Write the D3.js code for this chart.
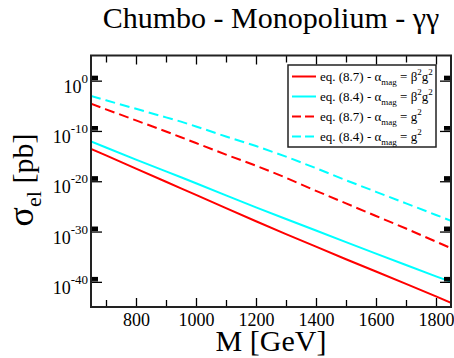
<!DOCTYPE html>
<html>
<head>
<script src="https://cdnjs.cloudflare.com/ajax/libs/d3/7.8.5/d3.min.js"></script>
<style>
  body { margin: 0; background: #fff; }
  text { font-family: 'Liberation Serif', 'Times New Roman', serif; fill: #000; }
</style>
</head>
<body>
<script>
// masses in GeV
const massGeV = [650, 700, 800, 900, 950, 1000, 1100, 1200, 1300, 1400, 1500, 1600, 1700, 1800, 1850];
// log10 of sigma_el [pb]
const eq87BetaLog = [-13.55, -14.85, -17.5, -20.1, -21.4, -22.7, -25.35, -27.95, -30.5, -33.0, -35.5, -37.95, -40.4, -42.9, -44.15];
const eq84BetaLog = [-12.1, -13.3, -15.7, -18.05, -19.2, -20.4, -22.8, -25.2, -27.5, -29.8, -32.1, -34.4, -36.65, -38.9, -40.0];
const eq87GLog = [-4.6, -5.7, -7.9, -10.1, -11.25, -12.4, -14.7, -16.9, -19.3, -21.9, -24.4, -26.9, -29.4, -32.0, -33.3];
const eq84GLog = [-3.05, -3.9, -5.6, -7.3, -8.15, -9.1, -11.1, -13.0, -15.1, -17.4, -19.8, -22.1, -24.4, -26.7, -27.85];

const xMajor = [800, 1000, 1200, 1400, 1600, 1800];
const xMinor = [700, 900, 1100, 1300, 1500, 1700];
const yMajorExp = [0, -10, -20, -30, -40];

const series = [
  { eq: "8.7", coupling: "beta", vals: eq87BetaLog, color: "#ff0000", dash: null },
  { eq: "8.4", coupling: "beta", vals: eq84BetaLog, color: "#00ffff", dash: null },
  { eq: "8.7", coupling: "g", vals: eq87GLog, color: "#ff0000", dash: "10,5" },
  { eq: "8.4", coupling: "g", vals: eq84GLog, color: "#00ffff", dash: "10,5" }
];

const W = 454, H = 358;
const pL = 91, pR = 451, pT = 55.5, pB = 307;
const serif = "'Liberation Serif', 'Times New Roman', serif";

const svg = d3.select("body").append("svg").attr("width", W).attr("height", H);

const x = d3.scaleLinear().domain([650, 1850]).range([pL, pR]);
const y = d3.scaleLog().domain([1e-45, 1e5]).range([pB, pT]);

// clip
svg.append("clipPath").attr("id", "clip")
  .append("rect").attr("x", pL).attr("y", pT).attr("width", pR - pL).attr("height", pB - pT);

// curves
const line = d3.line()
  .x(d => x(d[0]))
  .y(d => y(Math.pow(10, d[1])));

const plot = svg.append("g").attr("clip-path", "url(#clip)");
series.forEach(s => {
  plot.append("path")
    .datum(massGeV.map((m, i) => [m, s.vals[i]]))
    .attr("d", line)
    .attr("fill", "none")
    .attr("stroke", s.color)
    .attr("stroke-width", 2)
    .attr("stroke-dasharray", s.dash);
});

function clean(g) {
  g.attr("font-family", serif);
  g.select(".domain").remove();
  g.selectAll(".tick line").attr("stroke", "#000").attr("stroke-width", 1.3);
}

// x axes
svg.append("g").attr("transform", `translate(0,${pB})`)
  .call(d3.axisBottom(x).tickValues(xMajor).tickSize(-9).tickPadding(6).tickFormat(d3.format("d")))
  .call(clean)
  .selectAll("text").style("font-size", "18px").style("font-family", serif);
svg.append("g").attr("transform", `translate(0,${pB})`)
  .call(d3.axisBottom(x).tickValues(xMinor).tickSize(-7).tickFormat(""))
  .call(clean);
svg.append("g").attr("transform", `translate(0,${pT})`)
  .call(d3.axisTop(x).tickValues(xMajor).tickSize(-9).tickFormat(""))
  .call(clean);
svg.append("g").attr("transform", `translate(0,${pT})`)
  .call(d3.axisTop(x).tickValues(xMinor).tickSize(-7).tickFormat(""))
  .call(clean);

// y axes
const yMajor = yMajorExp.map(e => Math.pow(10, e));
const yMinor = [];
yMajorExp.forEach(e => { for (let k = 2; k <= 9; k++) yMinor.push(k * Math.pow(10, e)); });

[[d3.axisLeft, pL], [d3.axisRight, pR]].forEach(([ax, pos]) => {
  svg.append("g").attr("transform", `translate(${pos},0)`)
    .call(ax(y).tickValues(yMajor).tickSize(-11).tickFormat(""))
    .call(clean);
  svg.append("g").attr("transform", `translate(${pos},0)`)
    .call(ax(y).tickValues(yMinor).tickSize(-7).tickFormat(""))
    .call(clean);
});

// y tick labels 10^n
yMajorExp.forEach(e => {
  const t = svg.append("text")
    .attr("x", 88)
    .attr("y", y(Math.pow(10, e)) + 12)
    .attr("text-anchor", "end")
    .style("font-size", "18px");
  t.append("tspan").text("10");
  t.append("tspan").attr("dy", -10).style("font-size", "13px").text(e === 0 ? "0" : "-" + Math.abs(e));
});

// frame
svg.append("rect")
  .attr("x", pL).attr("y", pT).attr("width", pR - pL).attr("height", pB - pT)
  .attr("fill", "none").attr("stroke", "#222").attr("stroke-width", 2);

// title
svg.append("text")
  .attr("x", (pL + pR) / 2).attr("y", 28)
  .attr("text-anchor", "middle")
  .style("font-size", "30px")
  .text("Chumbo - Monopolium - γγ");

// x label
svg.append("text")
  .attr("x", (pL + pR) / 2).attr("y", 351)
  .attr("text-anchor", "middle")
  .style("font-size", "30px")
  .text("M [GeV]");

// y label
const yl = svg.append("text")
  .attr("transform", "translate(33,180) rotate(-90)")
  .attr("text-anchor", "middle")
  .style("font-size", "30px");
yl.append("tspan").style("font-size", "36px").text("σ");
yl.append("tspan").attr("dy", 8).style("font-size", "22px").text("el");
yl.append("tspan").attr("dy", -8).text(" [pb]");

// legend
const lg = svg.append("g");
lg.append("rect")
  .attr("x", 288).attr("y", 65).attr("width", 148).attr("height", 82)
  .attr("fill", "#fff").attr("stroke", "#222").attr("stroke-width", 1.5);

series.forEach((s, i) => {
  const ry = 76.5 + i * 20;
  lg.append("line")
    .attr("x1", 292).attr("x2", 316).attr("y1", ry).attr("y2", ry)
    .attr("stroke", s.color).attr("stroke-width", 2)
    .attr("stroke-dasharray", s.dash ? "9,4" : null);
  const t = lg.append("text").attr("x", 320).attr("y", ry + 4.5).style("font-size", "13px");
  t.append("tspan").text(`eq. (${s.eq}) - α`);
  t.append("tspan").attr("dy", 4).style("font-size", "9px").text("mag");
  t.append("tspan").attr("dy", -4).text(" = ");
  if (s.coupling === "beta") {
    t.append("tspan").text("β");
    t.append("tspan").attr("dy", -6).style("font-size", "9px").text("2");
    t.append("tspan").attr("dy", 6).text("g");
  } else {
    t.append("tspan").text("g");
  }
  t.append("tspan").attr("dy", -6).style("font-size", "9px").text("2");
});
</script>
</body>
</html>
